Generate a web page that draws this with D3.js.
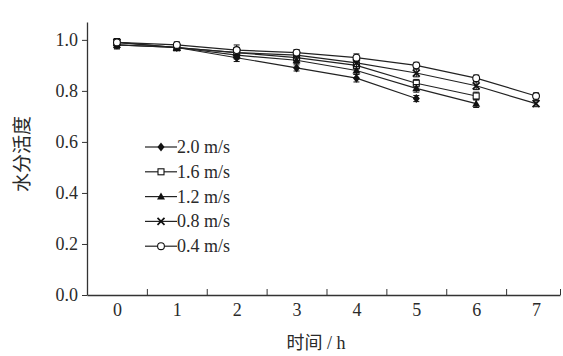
<!DOCTYPE html>
<html><head><meta charset="utf-8">
<script src="https://cdn.jsdelivr.net/npm/d3@7"></script>
<style>
html,body{margin:0;padding:0;background:#fff;}
svg{display:block;}
text{fill:#2a2a2a;}
</style>
</head><body>
<svg id="chart" width="563" height="356"></svg>
<script>
const times = [0, 1, 2, 3, 4, 5, 6, 7];
const xTickLabels = ["0","1","2","3","4","5","6","7"];
const yTicks = [0.0, 0.2, 0.4, 0.6, 0.8, 1.0];
const seriesNames = ["2.0 m/s", "1.6 m/s", "1.2 m/s", "0.8 m/s", "0.4 m/s"];
const seriesMarkers = ["diamond", "square", "triangle", "cross", "circle"];
const v20 = [0.98, 0.97, 0.93, 0.89, 0.85, 0.77];
const v16 = [0.99, 0.97, 0.95, 0.93, 0.90, 0.83, 0.78];
const v12 = [0.98, 0.97, 0.94, 0.92, 0.88, 0.81, 0.75];
const v08 = [0.99, 0.97, 0.95, 0.94, 0.91, 0.87, 0.82, 0.75];
const v04 = [0.99, 0.98, 0.96, 0.95, 0.93, 0.90, 0.85, 0.78];
const err20 = [0.015, 0.012, 0.015, 0.012, 0.015, 0.012];
const err16 = [0.015, 0.012, 0.02, 0.012, 0.015, 0.015, 0.015];
const err12 = [0.015, 0.012, 0.015, 0.012, 0.015, 0.015, 0.015];
const err08 = [0.015, 0.012, 0.015, 0.012, 0.015, 0.015, 0.015, 0.012];
const err04 = [0.015, 0.012, 0.02, 0.012, 0.015, 0.012, 0.012, 0.012];
const xTitle = "时间 / h";
const yTitle = "水分活度";

const allValues = [v20, v16, v12, v08, v04];
const allErr = [err20, err16, err12, err08, err04];

const svg = d3.select("#chart");
const mLeft = 87, mRight = 560, mTop = 22, mBottom = 295;
const x = d3.scaleLinear().domain([-0.5, 7.4]).range([mLeft, mRight]);
const y = d3.scaleLinear().domain([0, 1.07]).range([mBottom, mTop]);
const serif = "'Liberation Serif','Times New Roman',serif";
const cjk = "'Liberation Serif','Noto Sans CJK SC',serif";

// Y axis
const yAxis = svg.append("g").attr("transform", `translate(${mLeft},0)`)
  .call(d3.axisLeft(y).tickValues(yTicks).tickFormat(d3.format(".1f")).tickSizeInner(5).tickSizeOuter(0).tickPadding(4));
yAxis.select(".domain").attr("stroke", "#333").attr("stroke-width", 1.3);
yAxis.selectAll(".tick line").attr("stroke", "#333");
yAxis.selectAll("text").attr("font-family", serif).attr("font-size", 18).attr("fill", "#2a2a2a");

// X axis labels (no tick marks)
const xAxis = svg.append("g").attr("transform", `translate(0,${mBottom})`)
  .call(d3.axisBottom(x).tickValues(times).tickFormat((d, i) => xTickLabels[i]).tickSize(0).tickPadding(8));
xAxis.select(".domain").attr("stroke", "#333").attr("stroke-width", 1.3);
xAxis.selectAll("text").attr("font-family", serif).attr("font-size", 18).attr("fill", "#2a2a2a");

// X minor ticks pointing inward
const halfTicks = times.slice(0, 7).map(t => t + 0.5).concat([7.4]);
const xMinor = svg.append("g").attr("transform", `translate(0,${mBottom})`)
  .call(d3.axisBottom(x).tickValues(halfTicks).tickFormat("").tickSizeInner(-6).tickSizeOuter(0));
xMinor.select(".domain").remove();
xMinor.selectAll(".tick line").attr("stroke", "#333");

// Axis titles
svg.append("text").attr("x", 316).attr("y", 349).attr("text-anchor", "middle")
  .attr("font-family", cjk).attr("font-size", 18).attr("fill", "#333").text(xTitle);
svg.append("text").attr("transform", "translate(29,154) rotate(-90)").attr("text-anchor", "middle")
  .attr("font-family", "'Noto Sans CJK SC',sans-serif").attr("font-size", 19).attr("fill", "#444").text(yTitle);

function drawMarker(g, type, cx, cy) {
  const s = 3.5;
  if (type === "diamond") {
    g.append("path").attr("d", `M${cx},${cy - s - 1}L${cx + s},${cy}L${cx},${cy + s + 1}L${cx - s},${cy}Z`).attr("fill", "#111");
  } else if (type === "square") {
    g.append("rect").attr("x", cx - 3).attr("y", cy - 3).attr("width", 6).attr("height", 6)
      .attr("fill", "#fff").attr("stroke", "#111").attr("stroke-width", 1.1);
  } else if (type === "triangle") {
    g.append("path").attr("d", `M${cx},${cy - s - 0.5}L${cx + s + 0.5},${cy + s - 0.5}L${cx - s - 0.5},${cy + s - 0.5}Z`).attr("fill", "#111");
  } else if (type === "cross") {
    g.append("path").attr("d", `M${cx - s},${cy - s}L${cx + s},${cy + s}M${cx - s},${cy + s}L${cx + s},${cy - s}`)
      .attr("stroke", "#111").attr("stroke-width", 1.7);
  } else if (type === "circle") {
    g.append("circle").attr("cx", cx).attr("cy", cy).attr("r", 3.4)
      .attr("fill", "#fff").attr("stroke", "#111").attr("stroke-width", 1.1);
  }
}

const line = d3.line().x((d, i) => x(times[i])).y(d => y(d));
const plot = svg.append("g");
allValues.forEach((vals, si) => {
  const g = plot.append("g");
  g.append("path").datum(vals).attr("d", line).attr("fill", "none").attr("stroke", "#222").attr("stroke-width", 1.2);
  vals.forEach((v, i) => {
    const e = allErr[si][i];
    const cx = x(times[i]);
    g.append("path").attr("d", `M${cx},${y(v + e)}V${y(v - e)}M${cx - 3},${y(v + e)}H${cx + 3}M${cx - 3},${y(v - e)}H${cx + 3}`)
      .attr("stroke", "#111").attr("stroke-width", 1).attr("fill", "none");
  });
  vals.forEach((v, i) => drawMarker(g, seriesMarkers[si], x(times[i]), y(v)));
});

// Legend
const legend = svg.append("g");
seriesNames.forEach((name, i) => {
  const ly = 147 + i * 24.8;
  legend.append("line").attr("x1", 145).attr("x2", 177).attr("y1", ly).attr("y2", ly).attr("stroke", "#222").attr("stroke-width", 1.2);
  drawMarker(legend, seriesMarkers[i], 161, ly);
  legend.append("text").attr("x", 177).attr("y", ly + 6).attr("font-family", serif).attr("font-size", 18).text(name);
});
</script>
</body></html>
